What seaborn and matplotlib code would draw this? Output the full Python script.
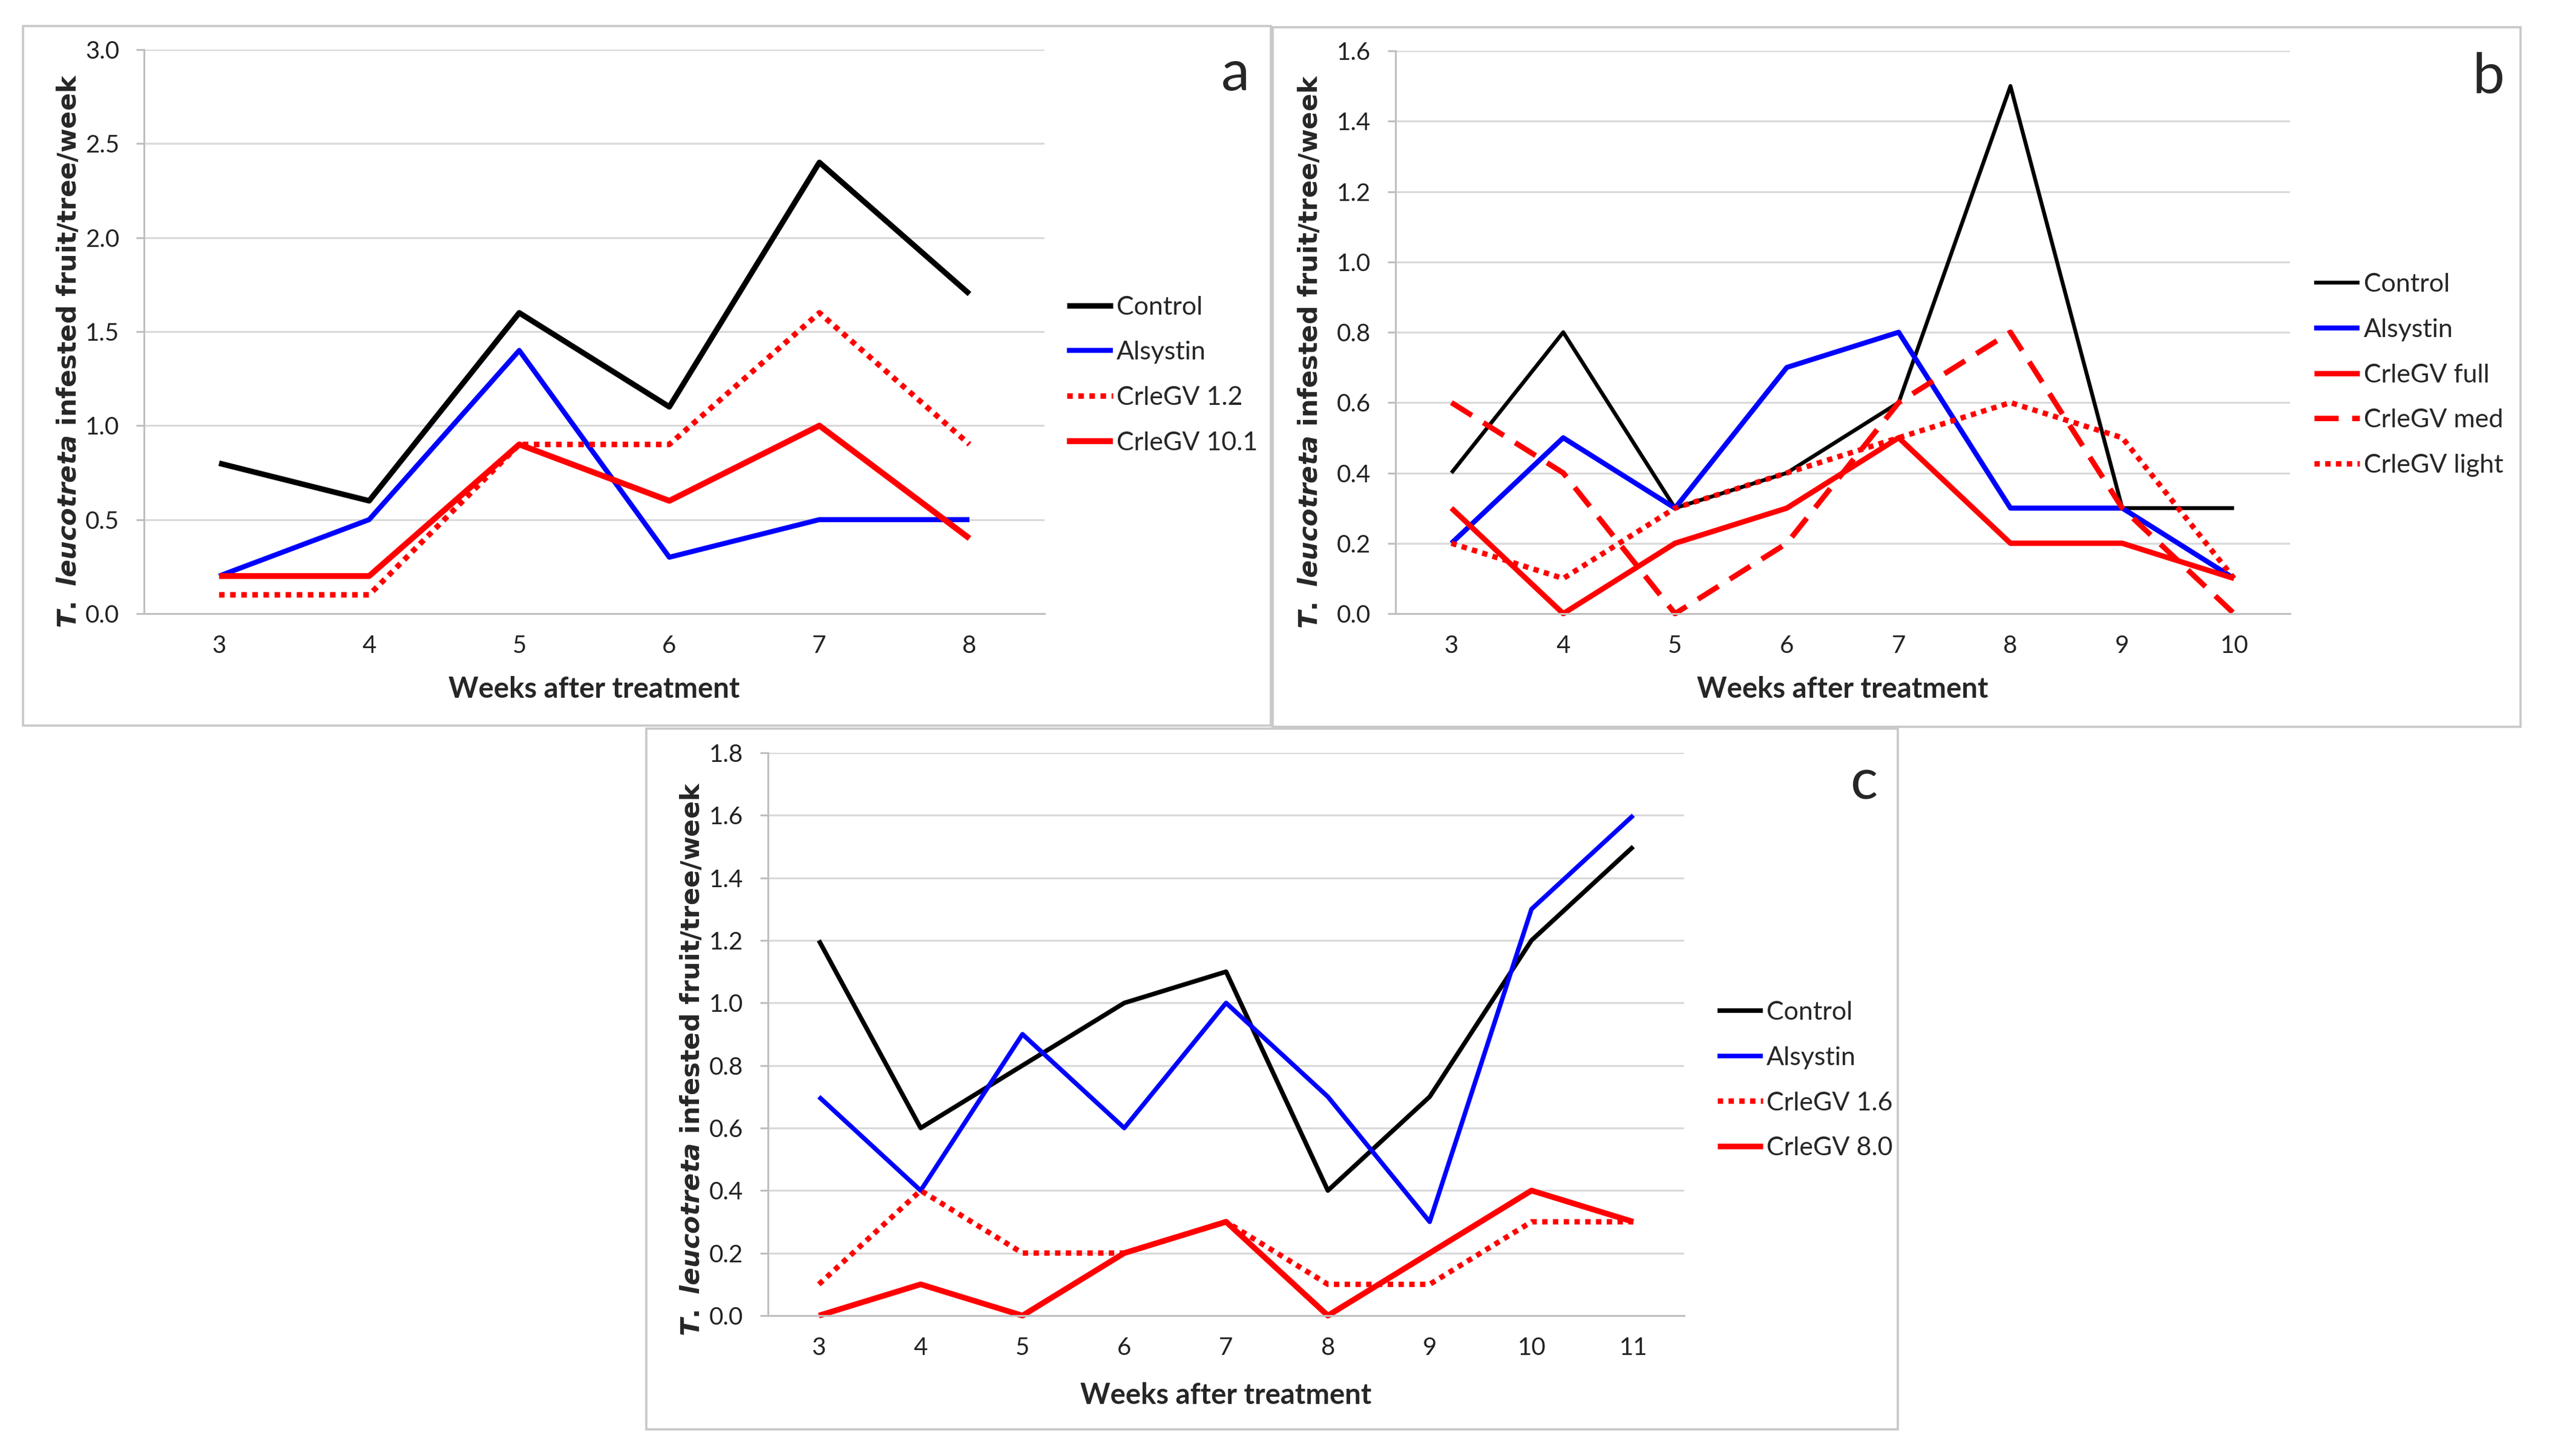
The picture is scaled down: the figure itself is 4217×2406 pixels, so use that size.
import matplotlib
matplotlib.use('Agg')
import matplotlib.pyplot as plt
import seaborn as sns
import numpy as np
from matplotlib.patches import Rectangle

# ---- data (panel a) ----
weeks_a = [3, 4, 5, 6, 7, 8]
control_a = [0.8, 0.6, 1.6, 1.1, 2.4, 1.7]
alsystin_a = [0.2, 0.5, 1.4, 0.3, 0.5, 0.5]
crlegv_12_a = [0.1, 0.1, 0.9, 0.9, 1.6, 0.9]
crlegv_101_a = [0.2, 0.2, 0.9, 0.6, 1.0, 0.4]

# ---- data (panel b) ----
weeks_b = [3, 4, 5, 6, 7, 8, 9, 10]
control_b = [0.4, 0.8, 0.3, 0.4, 0.6, 1.5, 0.3, 0.3]
alsystin_b = [0.2, 0.5, 0.3, 0.7, 0.8, 0.3, 0.3, 0.1]
crlegv_full_b = [0.3, 0.0, 0.2, 0.3, 0.5, 0.2, 0.2, 0.1]
crlegv_med_b = [0.6, 0.4, 0.0, 0.2, 0.6, 0.8, 0.3, 0.0]
crlegv_light_b = [0.2, 0.1, 0.3, 0.4, 0.5, 0.6, 0.5, 0.1]

# ---- data (panel c) ----
weeks_c = [3, 4, 5, 6, 7, 8, 9, 10, 11]
control_c = [1.2, 0.6, 0.8, 1.0, 1.1, 0.4, 0.7, 1.2, 1.5]
alsystin_c = [0.7, 0.4, 0.9, 0.6, 1.0, 0.7, 0.3, 1.3, 1.6]
crlegv_16_c = [0.1, 0.4, 0.2, 0.2, 0.3, 0.1, 0.1, 0.3, 0.3]
crlegv_80_c = [0.0, 0.1, 0.0, 0.2, 0.3, 0.0, 0.2, 0.4, 0.3]

sns.set_style('white')
plt.rcParams['font.family'] = ['Lato', 'DejaVu Sans']
plt.rcParams['mathtext.fontset'] = 'custom'
plt.rcParams['mathtext.it'] = 'DejaVu Sans:italic:bold'
plt.rcParams['mathtext.rm'] = 'DejaVu Sans:bold'

GRID = '#D9D9D9'
AXIS = '#BFBFBF'
SOLID = '-'
DOT = (0, (1, 1))
DASH = (0, (4.5, 2.5))

YLABEL = r'$\it{T.}$ $\it{leucotreta}$ infested fruit/tree/week'

W, H = 4217, 2406
fig = plt.figure(figsize=(W / 200, H / 200), dpi=200)


def px_axes(left, top, right, bottom):
    return [left / W, 1 - bottom / H, (right - left) / W, (bottom - top) / H]


def draw_panel(ax, weeks, series, ymax, ystep, leg_xy, ylab_xy, xlab_y):
    pos = np.arange(len(weeks))
    for label, vals, color, ls, lw in series:
        sns.lineplot(x=pos, y=vals, ax=ax, color=color, linestyle=ls, linewidth=lw,
                     label=label, clip_on=False, solid_joinstyle='round',
                     dash_capstyle='butt', solid_capstyle='butt')
    ax.set_xlim(-0.5, len(weeks) - 0.5)
    ax.set_ylim(0, ymax)
    yt = np.arange(0, ymax + ystep / 2, ystep)
    ax.set_yticks(yt)
    ax.set_yticklabels([f'{v:.1f}' for v in yt])
    ax.set_xticks(pos)
    ax.set_xticklabels([str(w) for w in weeks])
    ax.set_xticks(np.arange(len(weeks) + 1) - 0.5, minor=True)
    ax.tick_params(axis='x', which='major', length=0, pad=12.5, labelsize=14.5, labelcolor='#222222')
    ax.tick_params(axis='x', which='minor', length=4.7, width=1.1, color=AXIS, direction='out')
    ax.tick_params(axis='y', length=4.7, width=1.1, color=AXIS, direction='out', pad=10,
                   labelsize=14.5, labelcolor='#222222', left=True)
    ax.yaxis.grid(True, color=GRID, linewidth=1.1)
    ax.xaxis.grid(False)
    ax.set_axisbelow(True)
    for side in ['top', 'right']:
        ax.spines[side].set_visible(False)
    for side in ['left', 'bottom']:
        ax.spines[side].set_color(AXIS)
        ax.spines[side].set_linewidth(1.1)
    ax.set_ylabel(YLABEL, fontsize=15.5, fontweight='bold', family='DejaVu Sans')
    ax.yaxis.set_label_coords(*ylab_xy)
    ax.set_xlabel('Weeks after treatment', fontsize=17, fontweight='bold')
    ax.xaxis.set_label_coords(0.5, xlab_y)
    ax.legend(loc='center left', bbox_to_anchor=leg_xy, frameon=False, fontsize=15.5,
              handlelength=1.75, handletextpad=0.15, labelspacing=0.85,
              borderpad=0, borderaxespad=0)


# panel frames
for (x0, y0, x1, y1) in [(38, 43, 2100, 1199), (2103, 45, 4165, 1201), (1068, 1204, 3136, 2362)]:
    fig.add_artist(Rectangle((x0 / W, 1 - y1 / H), (x1 - x0) / W, (y1 - y0) / H,
                             transform=fig.transFigure, fill=False, ec='#C8C8C8', lw=1.3))

ax_a = fig.add_axes(px_axes(238, 82, 1726, 1014))
draw_panel(ax_a, weeks_a, [
    ('Control', control_a, 'black', SOLID, 3.3),
    ('Alsystin', alsystin_a, '#0000FF', SOLID, 3.0),
    ('CrleGV 1.2', crlegv_12_a, '#FF0000', DOT, 3.3),
    ('CrleGV 10.1', crlegv_101_a, '#FF0000', SOLID, 3.5),
], 3.0, 0.5, (1.025, 0.423), (-0.069, 0.465), -0.11)

ax_b = fig.add_axes(px_axes(2306, 84, 3784, 1014))
draw_panel(ax_b, weeks_b, [
    ('Control', control_b, 'black', SOLID, 2.3),
    ('Alsystin', alsystin_b, '#0000FF', SOLID, 3.0),
    ('CrleGV full', crlegv_full_b, '#FF0000', SOLID, 3.2),
    ('CrleGV med', crlegv_med_b, '#FF0000', DASH, 3.2),
    ('CrleGV light', crlegv_light_b, '#FF0000', DOT, 3.2),
], 1.6, 0.2, (1.027, 0.424), (-0.081, 0.465), -0.111)

ax_c = fig.add_axes(px_axes(1269, 1244, 2783, 2174))
draw_panel(ax_c, weeks_c, [
    ('Control', control_c, 'black', SOLID, 2.7),
    ('Alsystin', alsystin_c, '#0000FF', SOLID, 2.7),
    ('CrleGV 1.6', crlegv_16_c, '#FF0000', DOT, 3.2),
    ('CrleGV 8.0', crlegv_80_c, '#FF0000', SOLID, 3.4),
], 1.8, 0.2, (1.036, 0.418), (-0.0685, 0.456), -0.118)

# panel letters
fig.text(2041 / W, 1 - 149 / H, 'a', fontsize=34, ha='center', va='baseline')
fig.text(4112 / W, 1 - 153 / H, 'b', fontsize=34, ha='center', va='baseline')
fig.text(3081 / W, 1 - 1319 / H, 'c', fontsize=34, ha='center', va='baseline')

fig.savefig('out.png', dpi=200)
plt.close()
